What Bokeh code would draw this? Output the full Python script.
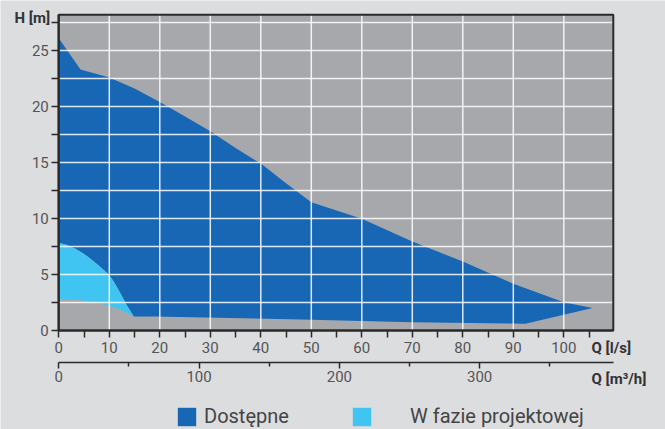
from bokeh.plotting import figure
from bokeh.models import (Range1d, LinearAxis, FixedTicker, Label, Legend, LegendItem)
from bokeh.embed import file_html
from bokeh.resources import INLINE

# ---- data (Q in l/s, H in m) ----
avail_top_q = [0, 4.3, 10, 15, 20, 25, 30, 35, 40, 45, 50, 60, 70, 80, 90, 100, 105.7]
avail_top_h = [26.1, 23.3, 22.6, 21.6, 20.4, 19.1, 17.8, 16.3, 14.9, 13.15, 11.45, 9.97, 7.95, 6.16, 4.17, 2.53, 2.0]
avail_bottom_q = [92.4, 70, 48, 19, 15]
avail_bottom_h = [0.6, 0.74, 0.98, 1.25, 1.25]
design_top_q = [0, 1.5, 3.3, 4.6, 5.9, 7.9, 9.9, 10.9, 11.9, 13.5, 14.85]
design_top_h = [7.83, 7.65, 7.29, 6.95, 6.55, 5.8, 5.0, 4.35, 3.57, 2.23, 1.25]
design_bottom_q = [14.85, 12.55, 9.9, 7.9, 5.9, 3.3, 0]
design_bottom_h = [1.25, 1.79, 2.23, 2.44, 2.62, 2.77, 2.83]

q_ticks = list(range(0, 101, 10))
q_minor = list(range(5, 106, 10))
h_ticks = [0, 5, 10, 15, 20, 25]
h_minor = [2.5, 7.5, 12.5, 17.5, 22.5, 27.5]
m3h_ticks = [0, 100, 200, 300]
m3h_minor = [50, 150, 250, 350]
legend_labels = ["Dostępne", "W fazie projektowej"]

# ---- layout constants ----
W, H = 665, 429
Q_MAX = 109.8          # right end of plot area (l/s)
H_MAX = 28.2           # top of plot area (m)
PX0, PXQ = 58.3, 5.05  # canvas x of Q=0, pixels per l/s
PY0, PYH = 330.0, 11.2 # canvas y of H=0, pixels per m
M3H = 3.6              # l/s -> m3/h
FONT = "Roboto"
BG = "#dcdddf"
AX = "#2a2a2a"

x_lo, x_hi = -PX0 / PXQ, (W - PX0) / PXQ
y_lo, y_hi = -(H - PY0) / PYH, PY0 / PYH

p = figure(width=W, height=H, output_backend="svg", toolbar_location=None,
           x_range=Range1d(x_lo, x_hi), y_range=Range1d(y_lo, y_hi),
           min_border=0, min_border_left=0, min_border_right=0,
           min_border_top=0, min_border_bottom=0,
           background_fill_color=BG, border_fill_color=BG)
p.outline_line_color = None
p.xgrid.visible = False
p.ygrid.visible = False

# plot area
p.quad(left=[0], right=[Q_MAX], bottom=[0], top=[H_MAX], fill_color="#a7a8ab", line_color=None)

dark_xs = avail_top_q + avail_bottom_q + design_top_q[::-1]
dark_ys = avail_top_h + avail_bottom_h + design_top_h[::-1]
light_xs = design_top_q + design_bottom_q
light_ys = design_top_h + design_bottom_h

r_dark = p.patch(dark_xs, dark_ys, fill_color="#1767b5", line_color=None)
r_light = p.patch(light_xs, light_ys, fill_color="#40c5f3", line_color=None)

# grid lines over the areas
grid_q = q_ticks[1:]
grid_h = sorted(h_ticks[1:] + h_minor)
p.segment(x0=grid_q, y0=[0] * len(grid_q), x1=grid_q, y1=[H_MAX] * len(grid_q),
          line_color="white", line_alpha=0.85, line_width=1.5)
p.segment(x0=[0] * len(grid_h), y0=grid_h, x1=[Q_MAX] * len(grid_h), y1=grid_h,
          line_color="white", line_alpha=0.85, line_width=1.5)

# frame outline
p.quad(left=[0], right=[Q_MAX], bottom=[0], top=[H_MAX], fill_color=None,
       line_color=AX, line_width=2)

# axes
xa = p.xaxis[0]
xa.ticker = FixedTicker(ticks=q_ticks, minor_ticks=q_minor)
xa.fixed_location = 0
xa.bounds = (0, Q_MAX)
ya = p.yaxis[0]
ya.ticker = FixedTicker(ticks=h_ticks, minor_ticks=h_minor)
ya.fixed_location = 0
ya.bounds = (0, H_MAX)

for ax in (xa, ya):
    ax.axis_line_color = AX
    ax.axis_line_width = 2
    ax.major_tick_line_color = AX
    ax.minor_tick_line_color = AX
    ax.major_tick_line_width = 1.5
    ax.minor_tick_line_width = 1.5
    ax.major_tick_in = 0
    ax.minor_tick_in = 0
    ax.major_tick_out = 7
    ax.minor_tick_out = 7
    ax.major_label_text_font = FONT
    ax.major_label_text_font_size = "15px"
    ax.major_label_text_color = "#555555"
xa.major_label_standoff = 4
ya.major_label_standoff = 3

p.extra_x_ranges = {"m3h": Range1d(x_lo * M3H, x_hi * M3H)}
ax2 = LinearAxis(x_range_name="m3h", ticker=FixedTicker(ticks=m3h_ticks, minor_ticks=m3h_minor))
ax2.fixed_location = -32 / PYH
ax2.bounds = (0, Q_MAX * M3H)
ax2.axis_line_color = AX
ax2.axis_line_width = 1.5
ax2.major_tick_line_color = AX
ax2.minor_tick_line_color = AX
ax2.major_tick_line_width = 1.5
ax2.minor_tick_line_width = 1.5
ax2.major_tick_in = 0
ax2.minor_tick_in = 0
ax2.major_tick_out = 6
ax2.minor_tick_out = 4
ax2.major_label_text_font = FONT
ax2.major_label_text_font_size = "15px"
ax2.major_label_text_color = "#555555"
ax2.major_label_standoff = 2
p.add_layout(ax2, "below")

# axis titles
lab_kw = dict(text_font=FONT, text_font_size="15px", text_font_style="bold",
              text_color="#333333", text_baseline="middle", text_align="left")
p.add_layout(Label(x=(14 - PX0) / PXQ, y=(PY0 - 17) / PYH, text="H [m]", **lab_kw))
p.add_layout(Label(x=(591 - PX0) / PXQ, y=(PY0 - 347) / PYH, text="Q [l/s]", **lab_kw))
p.add_layout(Label(x=(591 - PX0) / PXQ, y=(PY0 - 378) / PYH, text="Q [m³/h]", **lab_kw))

# legends
leg_kw = dict(orientation="horizontal", padding=0, margin=0, border_line_color=None,
              background_fill_alpha=0, glyph_width=23, glyph_height=23,
              label_text_font=FONT, label_text_font_size="20px", label_text_color="#444444")
leg1 = Legend(items=[LegendItem(label=legend_labels[0], renderers=[r_dark])],
              location=(175, 1), label_standoff=6, **leg_kw)
leg2 = Legend(items=[LegendItem(label=legend_labels[1], renderers=[r_light])],
              location=(350, 1), label_standoff=37, **leg_kw)
p.add_layout(leg1)
p.add_layout(leg2)

open("out.html", "w").write(file_html(p, INLINE))
